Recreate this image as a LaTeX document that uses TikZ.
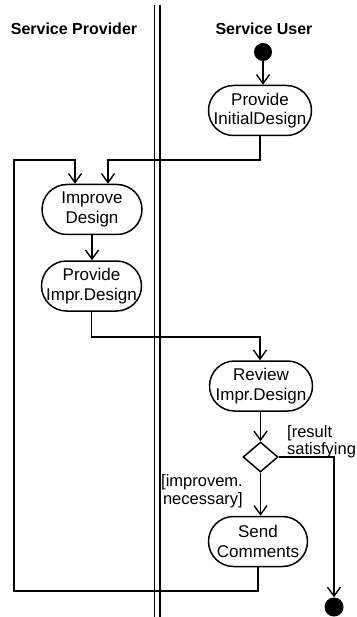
\documentclass[tikz,border=0pt]{standalone}
\usepackage{fontspec}
\setmainfont{Liberation Sans}
\usetikzlibrary{arrows.meta,shapes.geometric}
\begin{document}
\begin{tikzpicture}[x=1pt,y=-1pt,
  act/.style={draw, line width=1.5pt, rounded corners=25pt, minimum width=103pt, minimum height=50pt, inner sep=0pt, align=center, font=\fontsize{17}{19.5}\selectfont},
  flow/.style={line width=1.5pt},
  arr/.style={flow, -{Straight Barb[length=9pt,width=13pt,line width=1.4pt]}},
  dot/.style={circle, fill=black, minimum size=18pt, inner sep=0pt},
  lbl/.style={font=\fontsize{16.5}{17.5}\selectfont, inner sep=0pt},
  lanetitle/.style={font=\bfseries\fontsize{16}{19}\selectfont, inner sep=0pt},
  lane/.style={line width=1.6pt},
  decision/.style={diamond, draw, line width=1.5pt, minimum width=35pt, minimum height=30pt, inner sep=0pt}]
\useasboundingbox (0,0) rectangle (356,617);
% lane titles
\node[lanetitle, anchor=base] (tprov) at (74,35) {Service Provider};
\node[lanetitle, anchor=base] (tuser) at (264,35) {Service User};
% swimlane separator
\coordinate (s1t) at (154.3,5);
\coordinate (s1b) at (154.3,617);
\coordinate (s2t) at (159.7,5);
\coordinate (s2b) at (159.7,617);
\draw[lane] (s1t) -- (s1b);
\draw[lane] (s2t) -- (s2b);
% nodes
\node[dot] (start) at (263,52) {};
\node[act] (pid) at (260,110.5) {Provide\\InitialDesign};
\node[act, minimum width=100pt] (imp) at (92,209.5) {Improve\\Design};
\node[act, minimum width=100pt] (pimp) at (91.5,286) {Provide\\Impr.Design};
\node[act] (rev) at (261,386) {Review\\Impr.Design};
\node[decision] (dec) at (260.5,457) {};
\node[act, minimum width=99pt] (send) at (258,541.5) {Send\\Comments};
\node[dot, minimum size=19pt] (end) at (334,607) {};
% guard labels
\node[lbl, anchor=north west, align=left] (lres) at (287,425) {[result\\satisfying};
\node[lbl, anchor=north east, align=right] (limp) at (243,474.5) {[improvem.\\necessary]};
% junction coordinates
\coordinate (j1) at (108,160);
\coordinate (l1) at (14,591);
\coordinate (l2) at (14,160);
\coordinate (l3) at (75,160);
\coordinate (j2) at (260,337);
% connectors
\draw[arr] (start) -- (start |- pid.north);
\draw[arr] (pid.south) |- (j1) -- (j1 |- imp.north);
\draw[arr] (send.south) |- (l1) -- (l2) -- (l3) -- (l3 |- imp.north);
\draw[arr] (imp.south) -- (imp.south |- pimp.north);
\draw[arr] (pimp.south) |- (j2) -- (j2 |- rev.north);
\draw[arr] (rev.south -| dec.north) -- (dec.north);
\draw[arr] (dec.east) -| (end.north);
\draw[arr] (dec.south) -- (dec.south |- send.north);
\end{tikzpicture}
\end{document}
